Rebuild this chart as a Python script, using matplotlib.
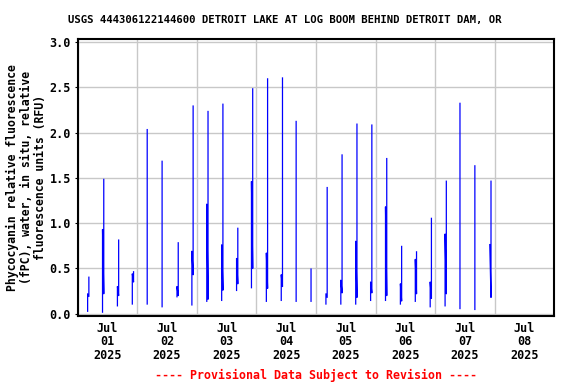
import matplotlib
matplotlib.use("Agg")
import matplotlib.pyplot as plt
import matplotlib.dates as mdates
import numpy as np
import pandas as pd

# --- data: each profile spike (time, then 4 values drawn in order) ---
times = [
    "2025-07-01 04:00", "2025-07-01 10:00", "2025-07-01 16:00", "2025-07-01 22:00",
    "2025-07-02 04:00", "2025-07-02 10:00", "2025-07-02 16:00", "2025-07-02 22:00",
    "2025-07-03 04:00", "2025-07-03 10:00", "2025-07-03 16:00", "2025-07-03 22:00",
    "2025-07-04 04:00", "2025-07-04 10:00", "2025-07-04 16:00", "2025-07-04 22:00",
    "2025-07-05 04:00", "2025-07-05 10:00", "2025-07-05 16:00", "2025-07-05 22:00",
    "2025-07-06 04:00", "2025-07-06 10:00", "2025-07-06 16:00", "2025-07-06 22:00",
    "2025-07-07 04:00", "2025-07-07 10:00", "2025-07-07 16:00", "2025-07-07 22:00",
]
left_from = [0.02, 0.01, 0.08, 0.10, 0.10, 0.07, 0.18, 0.09, 0.13, 0.14, 0.25, 0.28,
             0.13, 0.14, 0.13, 0.13, 0.10, 0.10, 0.10, 0.14, 0.14, 0.10, 0.13, 0.07,
             0.08, 0.05, 0.04, 0.77]
left_to = [0.22, 0.93, 0.30, 0.44, 2.04, 1.69, 0.30, 0.69, 1.21, 0.76, 0.61, 1.46,
           0.67, 0.43, 2.13, 0.50, 0.22, 0.37, 0.80, 0.35, 1.18, 0.33, 0.60, 0.35,
           0.88, 2.33, 1.64, 0.77]
right_from = [0.19, 0.22, 0.20, 0.35, np.nan, np.nan, 0.20, 0.43, 0.16, 0.26, 0.33, 0.50,
              0.28, 0.30, np.nan, np.nan, 0.18, 0.23, 0.18, 0.23, 0.20, 0.14, 0.22, 0.17,
              0.22, np.nan, np.nan, 0.18]
right_to = [0.41, 1.49, 0.82, 0.47, np.nan, np.nan, 0.79, 2.30, 2.24, 2.32, 0.95, 2.49,
            2.60, 2.61, np.nan, np.nan, 1.40, 1.76, 2.10, 2.09, 1.72, 0.75, 0.69, 1.06,
            1.47, np.nan, np.nan, 1.47]

title = "USGS 444306122144600 DETROIT LAKE AT LOG BOOM BEHIND DETROIT DAM, OR"
ylabel = "Phycocyanin relative fluorescence\n(fPC), water, in situ, relative\nfluorescence units (RFU)"
footer = "---- Provisional Data Subject to Revision ----"
yticks = [0.0, 0.5, 1.0, 1.5, 2.0, 2.5, 3.0]

# build a broken line series
t0 = pd.to_datetime(times)
dt = pd.Timedelta(minutes=30)
xs, ys = [], []
for i, t in enumerate(t0):
    xs += [t, t, t + dt, t + dt, t + dt]
    ys += [left_from[i], left_to[i], right_from[i], right_to[i], np.nan]
xs = mdates.date2num(pd.DatetimeIndex(xs).to_pydatetime())

fam = "DejaVu Sans Mono"
fig = plt.figure(figsize=(5.76, 3.84), dpi=100)
ax = fig.add_axes([77.7 / 576, 1 - 315.7 / 384, (554.3 - 77.7) / 576, (315.7 - 39.3) / 384])
ax.plot(xs, ys, color="#0000FF", lw=0.9, solid_capstyle="butt")

x0 = mdates.date2num(pd.Timestamp("2025-07-01"))
x1 = mdates.date2num(pd.Timestamp("2025-07-09"))
ax.set_xlim(x0, x1)
ax.set_ylim(-0.022, 3.03)

ax.xaxis.set_major_locator(mdates.DayLocator())
ax.xaxis.set_major_formatter(matplotlib.ticker.NullFormatter())
ax.xaxis.set_minor_locator(mdates.HourLocator(byhour=[12]))
ax.xaxis.set_minor_formatter(mdates.DateFormatter("%b\n%d\n%Y"))
ax.tick_params(axis="x", which="both", length=0, pad=4.5)
ax.tick_params(axis="y", length=2, width=0.8, pad=3)
ax.set_yticks(yticks)
ax.set_yticklabels([f"{v:.1f}" for v in yticks])
for lab in ax.get_yticklabels() + ax.xaxis.get_minorticklabels():
    lab.set_fontfamily(fam)
    lab.set_fontweight("bold")
    lab.set_fontsize(8.5)
for lab in ax.xaxis.get_minorticklabels():
    lab.set_linespacing(1.05)

ax.grid(True, which="major", color="#c8c8c8", lw=1.0)
ax.set_axisbelow(True)
for s in ax.spines.values():
    s.set_linewidth(1.5)
    s.set_color("black")

ax.set_ylabel(ylabel, fontfamily=fam, fontweight="bold", fontsize=8.3, linespacing=1.12, labelpad=1.5)
fig.text(285 / 576, 1 - 20 / 384, title, ha="center", va="center", fontfamily=fam,
         fontweight="bold", fontsize=7.7)
fig.text(316 / 576, 1 - 375 / 384, footer, ha="center", va="center", fontfamily=fam,
         fontweight="bold", fontsize=8.4, color="#FF0000")

fig.savefig("out.png", dpi=100)
